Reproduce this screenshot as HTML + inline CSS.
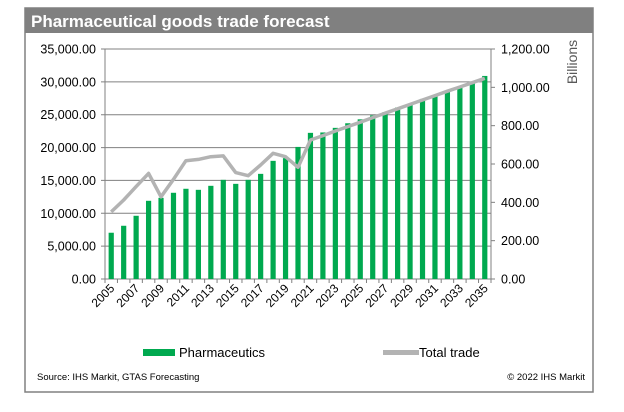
<!DOCTYPE html>
<html><head><meta charset="utf-8"><style>
body{margin:0;background:#fff;font-family:"Liberation Sans",Arial,sans-serif;}
svg text{font-family:"Liberation Sans",Arial,sans-serif;}
</style></head><body>
<svg id="chart" width="624" height="407" xmlns="http://www.w3.org/2000/svg">
<rect x="25" y="8" width="568" height="384" fill="#fff" stroke="#808080" stroke-width="1.5"/>
<rect x="25" y="8" width="568" height="25" fill="#808080"/>
<text x="31" y="27" font-size="17" font-weight="bold" fill="#fff">Pharmaceutical goods trade forecast</text>
<g id="grid"></g><g id="bars"></g><g id="line"></g><g id="axes"></g>
<text transform="translate(577,62) rotate(-90)" text-anchor="middle" font-size="14" fill="#595959">Billions</text>
<rect x="143" y="349" width="32" height="7" fill="#00a94f"/>
<text x="179" y="357" font-size="13" fill="#000">Pharmaceutics</text>
<rect x="383" y="350" width="36" height="5" fill="#b3b3b3"/>
<text x="419" y="357" font-size="13" fill="#000">Total trade</text>
<text x="37" y="380" font-size="9.5" fill="#000">Source: IHS Markit, GTAS Forecasting</text>
<text x="585" y="380" font-size="9.5" fill="#000" text-anchor="end">© 2022 IHS Markit</text>
</svg>
<script>
const years=[2005,2006,2007,2008,2009,2010,2011,2012,2013,2014,2015,2016,2017,2018,2019,2020,2021,2022,2023,2024,2025,2026,2027,2028,2029,2030,2031,2032,2033,2034,2035];
const pharma=[7040,8100,9620,11900,12350,13120,13730,13570,14180,15090,14480,15090,16000,17980,18390,20100,22240,22300,23000,23700,24300,24900,25400,26100,26700,27400,28000,28600,29300,30000,30900];
const totalTrade=[350,412,482,551,429,520,617,624,638,642,555,539,595,656,638,583,725,748,772,795,818,842,865,888,911,934,957,980,1002,1024,1047];
const leftTicks=[0,5000,10000,15000,20000,25000,30000,35000];
const leftTickLabels=["0.00","5,000.00","10,000.00","15,000.00","20,000.00","25,000.00","30,000.00","35,000.00"];
const rightTicks=[0,200,400,600,800,1000,1200];
const rightTickLabels=["0.00","200.00","400.00","600.00","800.00","1,000.00","1,200.00"];
const NS="http://www.w3.org/2000/svg";
const X0=105,X1=491,Y0=279,Y1=49;
const step=(X1-X0)/years.length;
const xc=i=>X0+step*(i+0.5);
const yL=v=>Y0-(v/35000)*(Y0-Y1);
const yR=v=>Y0-(v/1200)*(Y0-Y1);
function mk(tag,attrs,parent){const e=document.createElementNS(NS,tag);for(const k in attrs)e.setAttribute(k,attrs[k]);document.getElementById(parent).appendChild(e);return e;}
leftTicks.forEach((t,i)=>{
  const g=mk('line',{x1:X0-4,x2:X1,y1:yL(t),y2:yL(t),stroke:'#808080','stroke-width':1},'grid');
  
  
  const tx=mk('text',{x:96,y:yL(t)+4.5,'text-anchor':'end','font-size':12.5,fill:'#000'},'axes');
  tx.textContent=leftTickLabels[i];
  
  
});
rightTicks.forEach((t,i)=>{
  const l=mk('line',{x1:X1,x2:X1+4,y1:yR(t),y2:yR(t),stroke:'#808080'},'axes');
  
  
  const tx=mk('text',{x:501,y:yR(t)+4.5,'font-size':12.5,fill:'#000'},'axes');
  tx.textContent=rightTickLabels[i];
  
  
});
let a=mk('line',{x1:X0,x2:X0,y1:Y1,y2:Y0,stroke:'#808080'},'axes');


a=mk('line',{x1:X1,x2:X1,y1:Y1,y2:Y0,stroke:'#808080'},'axes');


for(let i=0;i<=years.length;i++){
  const t=mk('line',{x1:X0+step*i,x2:X0+step*i,y1:Y0,y2:Y0+4,stroke:'#808080'},'axes');
  
  
}
years.forEach((yr,i)=>{
  const b=mk('rect',{x:xc(i)-2.6,y:yL(pharma[i]),width:5.2,height:Y0-yL(pharma[i]),fill:'#00a94f'},'bars');
  
  
  if(i%2===0){
    const tx=mk('text',{transform:`translate(${xc(i)+4},${Y0+10}) rotate(-45)`,'text-anchor':'end','font-size':12,fill:'#000'},'axes');
    tx.textContent=yr;
    
    
  }
});
const pts=totalTrade.map((v,i)=>xc(i).toFixed(1)+','+yR(v).toFixed(1)).join(' ');
const pl=mk('polyline',{points:pts,fill:'none',stroke:'#b3b3b3','stroke-width':3.5,'stroke-linejoin':'round'},'line');


</script>
</body></html>
